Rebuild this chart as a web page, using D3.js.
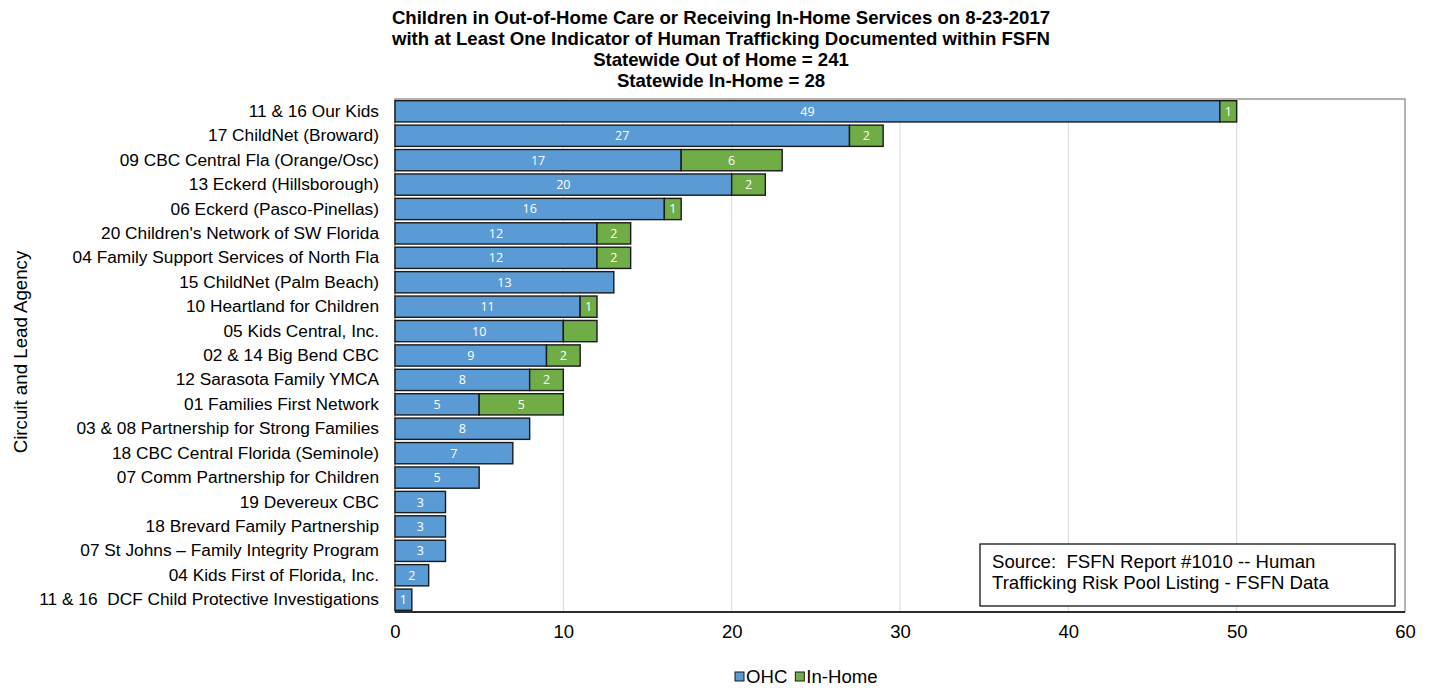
<!DOCTYPE html>
<html><head><meta charset="utf-8">
<script src="https://cdn.jsdelivr.net/npm/d3@7"></script>
<style>body{margin:0;background:#fff}svg{display:block}</style>
</head><body>
<script>
const categories = ["11 & 16 Our Kids","17 ChildNet (Broward)","09 CBC Central Fla (Orange/Osc)","13 Eckerd (Hillsborough)","06 Eckerd (Pasco-Pinellas)","20 Children's Network of SW Florida","04 Family Support Services of North Fla","15 ChildNet (Palm Beach)","10 Heartland for Children","05 Kids Central, Inc.","02 & 14 Big Bend CBC","12 Sarasota Family YMCA","01 Families First Network","03 & 08 Partnership for Strong Families","18 CBC Central Florida (Seminole)","07 Comm Partnership for Children","19 Devereux CBC","18 Brevard Family Partnership","07 St Johns \u2013 Family Integrity Program","04 Kids First of Florida, Inc.","11 & 16  DCF Child Protective Investigations"];
const ohc = [49,27,17,20,16,12,12,13,11,10,9,8,5,8,7,5,3,3,3,2,1];
const inHome = [1,2,6,2,1,2,2,0,1,2,2,2,5,0,0,0,0,0,0,0,0];
const unlabeledInHome = ["05 Kids Central, Inc."];
const seriesNames = ["OHC","In-Home"];
const xTicks = [0,10,20,30,40,50,60];
const titleLines = ["Children in Out-of-Home Care or Receiving In-Home Services on 8-23-2017","with at Least One Indicator of Human Trafficking Documented within FSFN","Statewide Out of Home = 241","Statewide In-Home = 28"];
const sourceLines = ["Source:  FSFN Report #1010 -- Human","Trafficking Risk Pool Listing - FSFN Data"];

const W=1434,H=688;
const m={l:395,r:1405,t:99,b:612};
const colors={"OHC":"#5B9BD5","In-Home":"#70AD47"};
const font="'Liberation Sans', Arial, sans-serif";
const svg=d3.select("body").append("svg").attr("width",W).attr("height",H).style("font-family",font);

const x=d3.scaleLinear().domain([0,60]).range([m.l,m.r]);
const y=d3.scaleBand().domain(categories).range([m.t,m.b]).paddingInner(0.13).paddingOuter(0.07);

// title
svg.append("g").selectAll("text").data(titleLines).join("text")
 .attr("x",721).attr("y",(d,i)=>24+i*21).attr("text-anchor","middle")
 .attr("font-size",18.6).attr("font-weight","bold").attr("fill","#000").text(d=>d);

// grid
svg.append("g").selectAll("line").data(xTicks.slice(1,-1)).join("line")
 .attr("x1",d=>x(d)).attr("x2",d=>x(d)).attr("y1",m.t).attr("y2",m.b)
 .attr("stroke","#d9d9d9").attr("stroke-width",1);
// plot border
svg.append("rect").attr("x",m.l).attr("y",m.t).attr("width",m.r-m.l).attr("height",m.b-m.t)
 .attr("fill","none").attr("stroke","#808080").attr("stroke-width",1.2);

const stackData = categories.map((c,i)=>({cat:c,"OHC":ohc[i],"In-Home":inHome[i]}));
const stacked = d3.stack().keys(seriesNames)(stackData);

const gBars=svg.append("g");
stacked.forEach(s=>{
  const key=s.key;
  gBars.selectAll(null).data(s.filter(d=>d[1]-d[0]>0)).join("rect")
   .attr("x",d=>x(d[0])).attr("y",d=>y(d.data.cat)).attr("width",d=>x(d[1])-x(d[0]))
   .attr("height",y.bandwidth()).attr("fill",colors[key]).attr("stroke","#1a1a1a").attr("stroke-width",1.4);
});
stacked.forEach(s=>{
  const key=s.key;
  gBars.selectAll(null).data(s.filter(d=>d[1]-d[0]>0 && !(key==="In-Home" && unlabeledInHome.includes(d.data.cat)))).join("text")
   .attr("x",d=>(x(d[0])+x(d[1]))/2).attr("y",d=>y(d.data.cat)+y.bandwidth()/2+4.5)
   .attr("text-anchor","middle").attr("font-size",12.5).attr("fill","#fff")
   .attr("font-family","'Open Sans', sans-serif").text(d=>d[1]-d[0]);
});

// bottom axis line
svg.append("line").attr("x1",m.l).attr("x2",m.r).attr("y1",m.b).attr("y2",m.b).attr("stroke","#000").attr("stroke-width",1.5);

// x axis labels
const xAxis=d3.axisBottom(x).tickValues(xTicks).tickSize(0).tickPadding(13);
const gx=svg.append("g").attr("transform",`translate(0,${m.b})`).call(xAxis);
gx.select(".domain").remove();
gx.selectAll("text").attr("font-size",18.5).attr("font-family",font).attr("fill","#000");

// y axis labels
const yAxis=d3.axisLeft(y).tickSize(0).tickPadding(16);
const gy=svg.append("g").attr("transform",`translate(${m.l},0)`).call(yAxis);
gy.select(".domain").remove();
gy.selectAll("text").attr("font-size",17.3).attr("font-family",font).attr("fill","#000").style("white-space","pre");

// y title
svg.append("text").attr("transform","translate(27,352) rotate(-90)").attr("text-anchor","middle")
 .attr("font-size",18.7).attr("fill","#000").text("Circuit and Lead Agency");

// source box
svg.append("rect").attr("x",980).attr("y",544).attr("width",415).attr("height",62).attr("fill","#fff").attr("stroke","#000").attr("stroke-width",1.2);
svg.append("g").selectAll("text").data(sourceLines).join("text")
 .attr("x",992).attr("y",(d,i)=>568+i*21).attr("font-size",18.6).attr("fill","#000").style("white-space","pre").text(d=>d);

// legend
const lg=svg.append("g");
let lx=735;
seriesNames.forEach(n=>{
  lg.append("rect").attr("x",lx).attr("y",672).attr("width",9).attr("height",9).attr("fill",colors[n]).attr("stroke","#1a1a1a").attr("stroke-width",1);
  const t=lg.append("text").attr("x",lx+11).attr("y",683).attr("font-size",18.6).attr("fill","#000").text(n);
  lx+=11+t.node().getComputedTextLength()+8;
});
</script>
</body></html>
